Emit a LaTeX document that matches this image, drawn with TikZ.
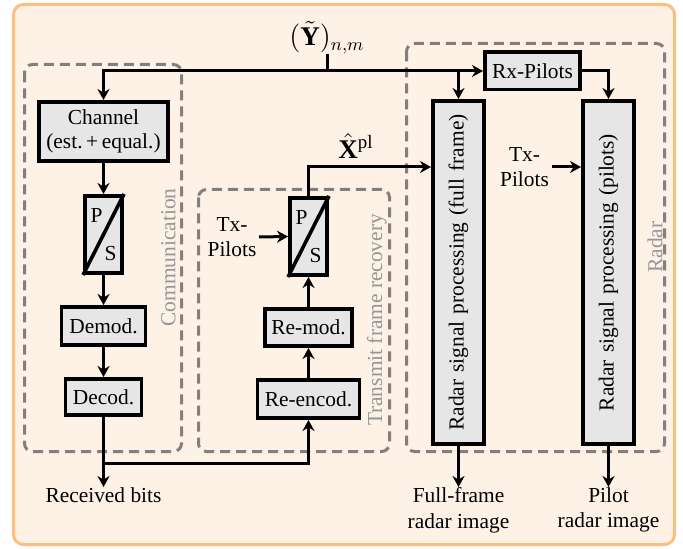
\documentclass[tikz,border=0pt]{standalone}
\usepackage{fontspec}
\setmainfont{Liberation Serif}
\usetikzlibrary{arrows.meta,calc}
\definecolor{bgfill}{RGB}{254,241,230}
\definecolor{bgline}{RGB}{253,190,130}
\definecolor{grpline}{RGB}{128,128,128}
\definecolor{grptext}{RGB}{150,150,150}
\definecolor{boxfill}{RGB}{230,230,230}
\begin{document}
\begin{tikzpicture}[x=0.5pt,y=-0.5pt,
  font=\fontsize{10.7}{12.8}\selectfont,
  blk/.style={draw=black,line width=1.8pt,fill=boxfill,inner sep=0pt,align=center},
  arr/.style={line width=1.5pt,-{Stealth[length=5.5pt,width=6pt,inset=1.8pt]}},
  ln/.style={line width=1.5pt},
  grp/.style={draw=grpline,line width=1.5pt,dash pattern=on 5pt off 3pt,rounded corners=4pt},
  grplab/.style={text=grptext,rotate=90,inner sep=0pt},
  txt/.style={inner sep=0pt,align=center},
  mlab/.style={inner sep=0pt,font=\fontsize{13.5}{16}\selectfont}]
\useasboundingbox (0,0) rectangle (683,549);
\draw[fill=bgfill,draw=bgline,line width=1.5pt,rounded corners=5pt] (13.5,4.5) rectangle (674.5,544.5);
% groups
\draw[grp] (24.5,64.5) rectangle (181.5,451.5);
\draw[grp] (198.5,189.5) rectangle (389.5,451.5);
\draw[grp] (406.5,43.5) rectangle (664.5,451.5);
\node[grplab] (gcom) at (168.5,257.5) {Communication};
\node[grplab] (gtfr) at (377,320) {Transmit frame recovery};
\node[grplab] (grad) at (655,247) {Radar};
% blocks
\node[blk,minimum width=64.7pt,minimum height=29.7pt] (chan) at (103.5,131.5) {Channel\\[-1pt](est.\,+\,equal.)};
\node[blk,minimum width=18.7pt,minimum height=38.7pt] (ps1) at (103.5,234.5) {};
\node[blk,minimum width=42pt,minimum height=19.2pt] (demod) at (103.5,326) {Demod.};
\node[blk,minimum width=38pt,minimum height=18.2pt] (decod) at (103.5,397) {Decod.};
\node[blk,minimum width=51pt,minimum height=19.2pt] (reenc) at (308.5,399) {Re-encod.};
\node[blk,minimum width=43.7pt,minimum height=18.7pt] (remod) at (308.5,327.5) {Re-mod.};
\node[blk,minimum width=18.7pt,minimum height=38.7pt] (ps2) at (308.5,236.5) {};
\node[blk,minimum width=47.7pt,minimum height=18.7pt] (rx) at (532.5,71) {Rx-Pilots};
\node[blk,minimum width=25.7pt,minimum height=171.7pt] (rad1) at (458.5,272.5) {};
\node[blk,minimum width=25.7pt,minimum height=171.7pt] (rad2) at (608.5,272.5) {};
\node[txt,rotate=90] (rad1t) at (rad1.center) {\spaceskip=3.6pt Radar signal processing (full frame)};
\node[txt,rotate=90] (rad2t) at (rad2.center) {\spaceskip=3.6pt Radar signal processing (pilots)};
% P/S contents
\foreach \p in {ps1,ps2}{
  \draw[line width=1.8pt] (\p.south west) -- (\p.north east);
  \node[txt] at ($(\p.center)+(-7,-19)$) {P};
  \node[txt] at ($(\p.center)+(7,19)$) {S};
}
% labels
\node[mlab,anchor=south] (ylab) at (327,54) {$(\tilde{\mathbf{Y}})_{n,m}$};
\node[mlab] (xlab) at (356,146) {$\hat{\mathbf{X}}^{\mathrm{pl}}$};
\node[txt] (tx1) at (232,237) {Tx-\\Pilots};
\node[txt] (tx2) at (524.5,167) {Tx-\\Pilots};
\node[txt,anchor=north] (rbits) at (103.5,487) {Received bits};
\node[txt,anchor=north] (out1) at (458.5,487) {Full-frame\\radar image};
\node[txt,anchor=north] (out2) at (608.5,487) {Pilot\\radar image};
% coordinates
\coordinate (j) at (327,71);
\coordinate (jr) at (458.5,71);
\coordinate (xh) at (308.5,167);
\coordinate (bj) at (103.5,463);
\coordinate (tx1e) at (259,237);
\coordinate (tx2e) at (552,167);
% connectors
\draw[ln] (ylab.south) -- (j);
\draw[arr] (j) -| (chan.north);
\draw[arr] (j) -- (rx.west);
\draw[arr] (jr) -- (rad1.north);
\draw[arr] (rx.east) -| (rad2.north);
\draw[arr] (chan) -- (ps1);
\draw[arr] (ps1) -- (demod);
\draw[arr] (demod) -- (decod);
\draw[arr] (decod.south) -- (rbits.north);
\draw[arr] (bj) -| (reenc.south);
\draw[arr] (reenc) -- (remod);
\draw[arr] (remod) -- (ps2);
\draw[arr] (tx1e) -- (ps2.west);
\draw[arr] (ps2.north) |- (rad1.west |- xh);
\draw[arr] (tx2e) -- (rad2.west |- tx2e);
\draw[arr] (rad1.south) -- (out1.north);
\draw[arr] (rad2.south) -- (out2.north);
\end{tikzpicture}
\end{document}
